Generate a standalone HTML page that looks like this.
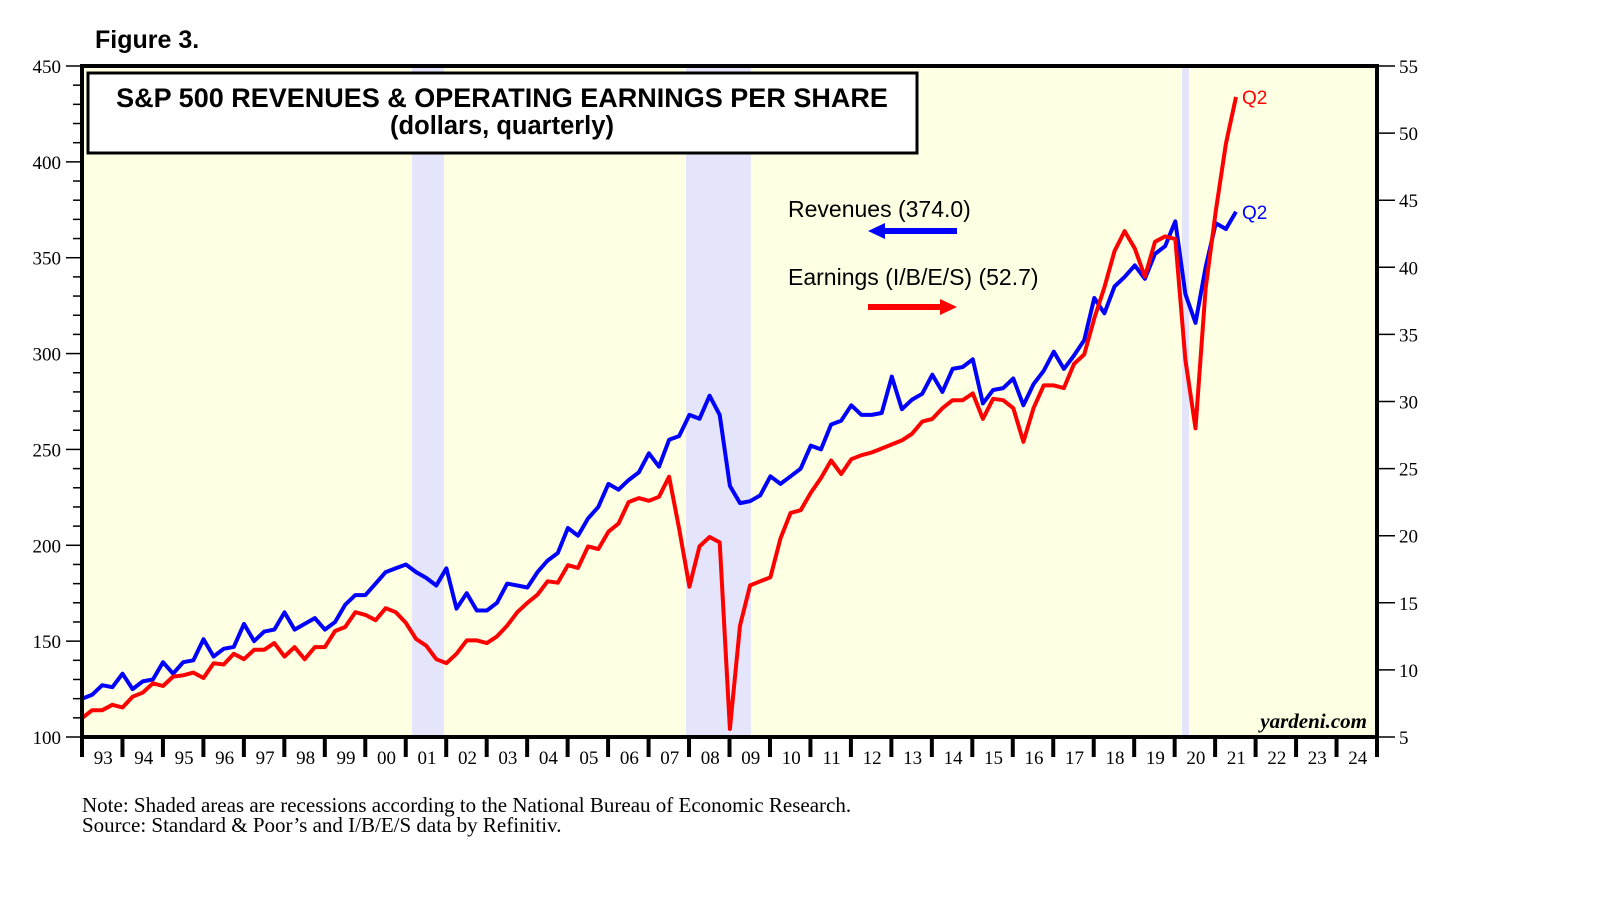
<!DOCTYPE html>
<html><head><meta charset="utf-8"><style>
body{margin:0;background:#fff;width:1610px;height:910px;overflow:hidden}
svg{display:block}
.s{font-family:"Liberation Serif",serif;font-size:19px;fill:#000}
.h{font-family:"Liberation Sans",sans-serif;fill:#000}
</style></head><body>
<svg id="c" width="1610" height="910" xmlns="http://www.w3.org/2000/svg">
<rect x="82" y="66" width="1295" height="671" fill="#ffffe3"/>
<rect x="412" y="66" width="32" height="671" fill="#e4e4fa"/>
<rect x="686" y="66" width="65" height="671" fill="#e4e4fa"/>
<rect x="1182" y="66" width="7" height="671" fill="#e4e4fa"/>
<g id="ax"></g>
<polyline id="rev" fill="none" stroke="#0000ff" stroke-width="4" stroke-linejoin="round"/>
<polyline id="ern" fill="none" stroke="#ff0000" stroke-width="4" stroke-linejoin="round"/>
<rect x="82" y="66" width="1295" height="671" fill="none" stroke="#000" stroke-width="4"/>
<rect x="88" y="73" width="829" height="80" fill="#fff" stroke="#000" stroke-width="3"/>
<text class="h" x="502" y="107" font-size="27" font-weight="bold" text-anchor="middle">S&amp;P 500 REVENUES &amp; OPERATING EARNINGS PER SHARE</text>
<text class="h" x="502" y="134" font-size="25.5" font-weight="bold" text-anchor="middle">(dollars, quarterly)</text>
<text class="h" x="95" y="48" font-size="25" font-weight="bold">Figure 3.</text>
<text class="h" x="788" y="217" font-size="23">Revenues (374.0)</text>
<text class="h" x="788" y="285" font-size="23">Earnings (I/B/E/S) (52.7)</text>
<line x1="880" y1="231" x2="957" y2="231" stroke="#0000ff" stroke-width="6"/>
<polygon points="868,231 885,223 885,239" fill="#0000ff"/>
<line x1="868" y1="307" x2="945" y2="307" stroke="#ff0000" stroke-width="6"/>
<polygon points="957,307 940,299 940,315" fill="#ff0000"/>
<text class="h" x="1242" y="104" font-size="19" style="fill:#ff0000">Q2</text>
<text class="h" x="1242" y="219" font-size="19" style="fill:#0000ff">Q2</text>
<text x="1367" y="728" font-family="Liberation Serif,serif" font-size="21" font-style="italic" font-weight="bold" text-anchor="end">yardeni.com</text>
<text class="s" x="82" y="812" style="font-size:21px">Note: Shaded areas are recessions according to the National Bureau of Economic Research.</text>
<text class="s" x="82" y="832" style="font-size:21px">Source: Standard &amp; Poor’s and I/B/E/S data by Refinitiv.</text>
</svg>
<script>
var ns="http://www.w3.org/2000/svg",ax=document.getElementById("ax");
function el(t,a,txt){var e=document.createElementNS(ns,t);for(var k in a)e.setAttribute(k,a[k]);if(txt)e.textContent=txt;ax.appendChild(e);return e;}
var L=82,R=1377,T=66,B=737,H=671;
for(var v=100;v<=450;v+=10){var y=B-(v-100)/350*H;var maj=v%50==0;
el("line",{x1:maj?66:73,x2:L,y1:y,y2:y,stroke:"#000","stroke-width":1.5});
if(maj)el("text",{x:61,y:y+7,"text-anchor":"end","class":"s"},""+v);}
for(var e=5;e<=55;e+=5){var y=B-(e-5)/50*H;el("line",{x1:R,x2:1395,y1:y,y2:y,stroke:"#000","stroke-width":1.5});
el("text",{x:1399,y:y+7,"class":"s"},""+e);}
var yw=1295/32;
for(var k=0;k<=32;k++){var x=L+k*yw;el("line",{x1:x,x2:x,y1:B,y2:757,stroke:"#000","stroke-width":4});
if(k<32){var yr=(93+k)%100;el("text",{x:x+yw/2+1,y:764,"text-anchor":"middle","class":"s"},(yr<10?"0":"")+yr);}}
var rev=[120,122,127,126,133,125,129,130,139,133,139,140,151,142,146,147,159,150,155,156,165,156,159,162,156,160,169,174,174,180,186,188,190,186,183,179,188,167,175,166,166,170,180,179,178,186,192,196,209,205,214,220,232,229,234,238,248,241,255,257,268,266,278,268,231,222,223,226,236,232,236,240,252,250,263,265,273,268,268,269,288,271,276,279,289,280,292,293,297,274,281,282,287,273,284,291,301,292,299,307,329,321,335,340,346,339,352,356,369,331,316,345,368,365,374];
var ern=[6.4,7.0,7.0,7.4,7.2,8.0,8.3,9.0,8.8,9.5,9.6,9.8,9.4,10.5,10.4,11.2,10.8,11.5,11.5,12.0,11.0,11.7,10.8,11.7,11.7,12.9,13.2,14.3,14.1,13.7,14.6,14.3,13.5,12.3,11.8,10.8,10.5,11.2,12.2,12.2,12.0,12.5,13.3,14.3,15.0,15.6,16.6,16.5,17.8,17.6,19.2,19.0,20.3,20.9,22.5,22.8,22.6,22.9,24.4,20.5,16.2,19.2,19.9,19.5,5.6,13.3,16.3,16.6,
16.9,19.8,21.7,21.9,23.2,24.3,25.6,24.6,25.7,26.0,26.2,26.5,
26.8,27.1,27.6,28.5,28.7,29.5,30.1,30.1,30.6,28.7,30.2,30.1,29.5,27.0,29.5,31.2,31.2,31.0,32.8,33.5,36.2,38.5,41.2,42.7,41.4,39.3,41.9,42.3,42.1,33.1,28.0,38.4,44.2,49.2,52.7];
function pts(a,f){var n=a.length,s=[];for(var i=0;i<n;i++){s.push((L+i*1154/(n-1)).toFixed(1)+","+f(a[i]).toFixed(1));}return s.join(" ");}
document.getElementById("rev").setAttribute("points",pts(rev,function(v){return B-(v-100)/350*H;}));
document.getElementById("ern").setAttribute("points",pts(ern,function(v){return B-(v-5)/50*H;}));
</script>
</body></html>
